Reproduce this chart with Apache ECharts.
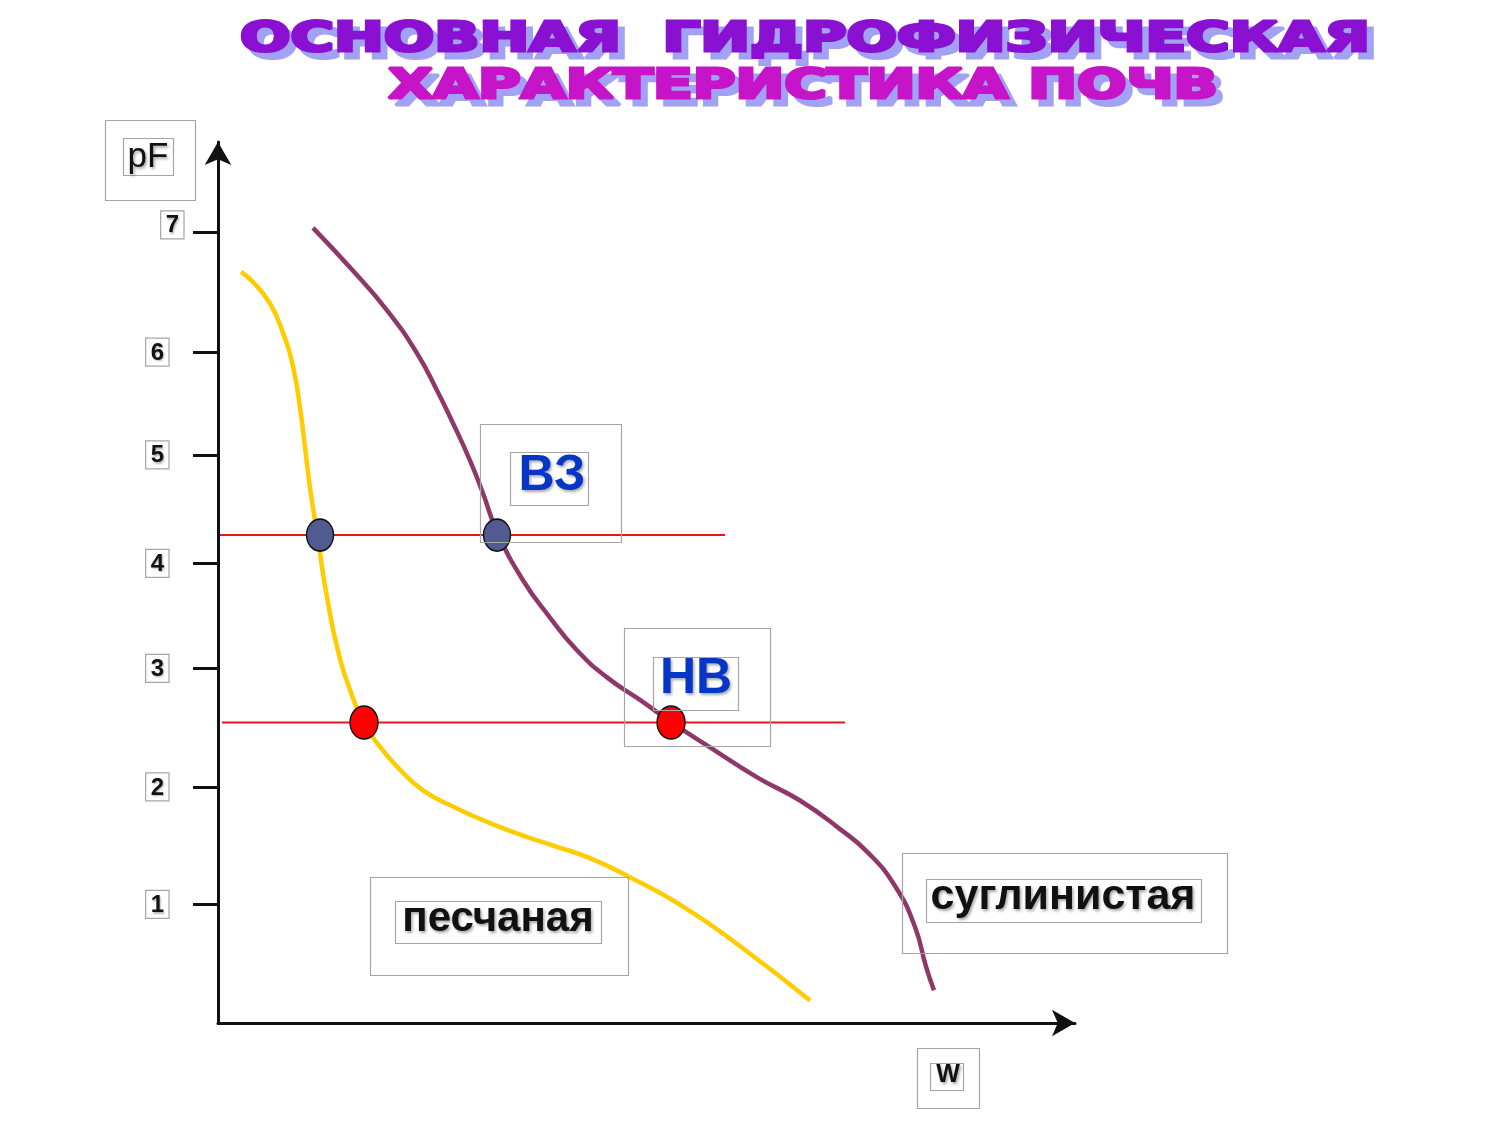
<!DOCTYPE html>
<html><head><meta charset="utf-8">
<script src="https://cdn.jsdelivr.net/npm/echarts@6/dist/echarts.min.js"></script>
<style>html,body{margin:0;padding:0;background:#fff}#c{width:1500px;height:1125px}</style>
</head><body><div id="c"></div>
<script>
// ---------- data ----------
const titleLines = ['ОСНОВНАЯ  ГИДРОФИЗИЧЕСКАЯ', 'ХАРАКТЕРИСТИКА ПОЧВ'];
const yTickLabels = ['1', '2', '3', '4', '5', '6', '7'];
const yTickValues = [1.05, 2.09, 3.14, 4.07, 5.03, 5.94, 7.00];
const yAxisName = 'pF';
const xAxisName = 'W';

const sandyName = 'песчаная';
const sandyW  = [2.72, 4.14, 6.15, 7.68, 8.87, 9.69, 10.28, 10.87, 11.47, 11.82, 12.17, 12.88, 14.07, 15.60, 17.26, 18.79, 21.16, 24.23, 28.25, 32.15, 36.05, 40.07, 43.97, 48.46, 55.20, 62.06, 69.98];
const sandyPF = [6.65, 6.56, 6.37, 6.11, 5.81, 5.45, 5.10, 4.74, 4.45, 4.33, 4.10, 3.77, 3.33, 2.95, 2.66, 2.48, 2.27, 2.06, 1.90, 1.77, 1.66, 1.56, 1.46, 1.30, 1.02, 0.66, 0.20];

const loamyName = 'суглинистая';
const loamyW  = [11.23, 15.96, 19.98, 23.52, 25.89, 27.78, 29.79, 31.32, 32.98, 36.05, 39.24, 42.43, 45.98, 49.88, 53.66, 58.16, 63.83, 68.79, 73.29, 76.95, 80.14, 82.39, 83.69, 84.63];
const loamyPF = [7.04, 6.66, 6.31, 5.93, 5.60, 5.31, 4.98, 4.69, 4.35, 3.92, 3.59, 3.30, 3.06, 2.86, 2.66, 2.44, 2.17, 1.97, 1.73, 1.50, 1.20, 0.85, 0.50, 0.29];

const wiltingName = 'ВЗ';
const wiltingPF = 4.32;
const wiltingLineW = [0.24, 59.93];
const wiltingPointsW = [12.06, 32.98];

const fieldCapName = 'НВ';
const fieldCapPF = 2.66;
const fieldCapLineW = [0.47, 74.11];
const fieldCapPointsW = [17.26, 53.55];

// ---------- build ----------
const zip = (a, b) => a.map((v, i) => [v, b[i]]);
const chart = echarts.init(document.getElementById('c'), null, { renderer: 'canvas' });

const LBL_FONT = '"Liberation Sans", Arial, sans-serif';
const BOX = '#a6a6a6';

function measure(text, font) {
  const cv = document.createElement('canvas');
  const ctx = cv.getContext('2d');
  ctx.font = font;
  return ctx.measureText(text).width;
}

function boxedLabel(outer, inner, text, cx, cy, font, color) {
  const els = [];
  if (outer) els.push({ type: 'rect', silent: true, z: 20,
    shape: { x: outer[0] + 0.5, y: outer[1] + 0.5, width: outer[2], height: outer[3] },
    style: { fill: 'rgba(0,0,0,0)', stroke: BOX, lineWidth: 1.2 } });
  els.push({ type: 'rect', silent: true, z: 20,
    shape: { x: inner[0] + 0.5, y: inner[1] + 0.5, width: inner[2], height: inner[3] },
    style: { fill: 'rgba(0,0,0,0)', stroke: BOX, lineWidth: 1.2 } });
  els.push({ type: 'text', silent: true, z: 21, x: cx, y: cy,
    style: { text: text, font: font, fill: color, align: 'center', verticalAlign: 'middle',
      textShadowColor: 'rgba(0,0,0,0.35)', textShadowBlur: 3, textShadowOffsetX: 1.5, textShadowOffsetY: 2 } });
  return els;
}

// title (WordArt-like)
const TITLE_FONT_SIZE = 40;
const titleFont = 'bold ' + TITLE_FONT_SIZE + 'px "DejaVu Sans", sans-serif';
const titleLayout = [
  { cx: 805, cy: 40, width: 1130, color: '#8a10d2' },
  { cx: 803, cy: 87, width: 830,  color: '#c614c8' }
];
const titleEls = [];
titleLines.forEach((t, i) => {
  const L = titleLayout[i];
  const sx = L.width / measure(t, titleFont);
  titleEls.push({ type: 'text', silent: true, z: 10, x: L.cx + 7, y: L.cy + 7, scaleX: sx, scaleY: 1.02,
    style: { text: t, font: titleFont, fill: '#a2a2f4', stroke: '#a2a2f4', lineWidth: 3, align: 'center', verticalAlign: 'middle' } });
  titleEls.push({ type: 'text', silent: true, z: 11, x: L.cx, y: L.cy, scaleX: sx, scaleY: 1.02,
    style: { text: t, font: titleFont, fill: L.color, stroke: L.color, lineWidth: 3, align: 'center', verticalAlign: 'middle' } });
});

const graphics = [].concat(
  titleEls,
  boxedLabel([105, 120, 90, 80], [123, 138, 50, 37], yAxisName, 148, 157, '35px ' + LBL_FONT, '#111'),
  boxedLabel([917, 1048, 62, 60], [930, 1063, 33, 27], xAxisName, 948, 1075, 'bold 25px ' + LBL_FONT, '#111'),
  boxedLabel([480, 424, 141, 118], [510, 452, 78, 53], wiltingName, 552, 476, 'bold 50px ' + LBL_FONT, '#0636c8'),
  boxedLabel([624, 628, 146, 118], [653, 657, 85, 53], fieldCapName, 696, 679, 'bold 50px ' + LBL_FONT, '#0636c8'),
  boxedLabel([370, 877, 258, 98], [395, 901, 206, 42], sandyName, 498, 919, 'bold 42px ' + LBL_FONT, '#111'),
  boxedLabel([902, 853, 325, 100], [926, 879, 275, 43], loamyName, 1063, 897, 'bold 43px ' + LBL_FONT, '#111')
);

function tickLabel(v) {
  let best = 0;
  yTickValues.forEach((t, i) => { if (Math.abs(t - v) < Math.abs(yTickValues[best] - v)) best = i; });
  const s = yTickLabels[best];
  return s === '7' ? '{b7|' + s + '}{t|}' : '{b|' + s + '}{s|}';
}

const tickBoxStyle = { fontFamily: LBL_FONT, fontWeight: 'bold', fontSize: 24, color: '#111', lineHeight: 24,
  borderColor: BOX, borderWidth: 1.2, padding: [3, 5, 1, 5],
  textShadowColor: 'rgba(0,0,0,0.3)', textShadowBlur: 2, textShadowOffsetX: 1, textShadowOffsetY: 1.5 };

const option = {
  animation: false,
  backgroundColor: '#ffffff',
  grid: { left: 218, right: 425, top: 142, bottom: 102, containLabel: false, outerBoundsMode: 'none' },
  xAxis: {
    type: 'value', min: 0, max: 101.3,
    axisLine: { show: true, symbol: ['none', 'arrow'], symbolSize: [20, 23], lineStyle: { color: '#111', width: 3 } },
    axisTick: { show: false }, axisLabel: { show: false }, splitLine: { show: false }
  },
  yAxis: {
    type: 'value', min: 0, max: 7.8,
    axisLine: { show: true, symbol: ['none', 'arrow'], symbolSize: [20, 23], lineStyle: { color: '#111', width: 3 } },
    axisTick: { show: true, inside: false, length: 25, customValues: yTickValues, lineStyle: { color: '#111', width: 3 } },
    axisLabel: {
      show: true, customValues: yTickValues, margin: 34, formatter: tickLabel,
      rich: {
        b: tickBoxStyle,
        b7: Object.assign({}, tickBoxStyle, { verticalAlign: 'top' }),
        s: { width: 15 },
        t: { width: 0, height: 43, lineHeight: 43 }
      }
    },
    splitLine: { show: false }
  },
  series: [
    { type: 'line', name: sandyName, data: zip(sandyW, sandyPF), smooth: 0.5, showSymbol: false, z: 2,
      lineStyle: { color: '#ffcc00', width: 4.5 }, emphasis: { disabled: true } },
    { type: 'line', name: loamyName, data: zip(loamyW, loamyPF), smooth: 0.5, showSymbol: false, z: 2,
      lineStyle: { color: '#8f3868', width: 4.5 }, emphasis: { disabled: true } },
    { type: 'line', name: wiltingName, data: wiltingLineW.map(w => [w, wiltingPF]), showSymbol: false, z: 3,
      lineStyle: { color: '#e41818', width: 2 }, emphasis: { disabled: true } },
    { type: 'line', name: fieldCapName, data: fieldCapLineW.map(w => [w, fieldCapPF]), showSymbol: false, z: 3,
      lineStyle: { color: '#e41818', width: 2 }, emphasis: { disabled: true } },
    { type: 'scatter', data: wiltingPointsW.map(w => [w, wiltingPF]), symbol: 'circle', symbolSize: [27, 32], z: 5,
      itemStyle: { color: '#525a92', borderColor: '#111', borderWidth: 1.5, opacity: 1 }, emphasis: { disabled: true } },
    { type: 'scatter', data: fieldCapPointsW.map(w => [w, fieldCapPF]), symbol: 'circle', symbolSize: [28, 33], z: 5,
      itemStyle: { color: '#ff0000', borderColor: '#111', borderWidth: 1.5, opacity: 1 }, emphasis: { disabled: true } }
  ],
  graphic: graphics
};
chart.setOption(option);
</script>
</body></html>
